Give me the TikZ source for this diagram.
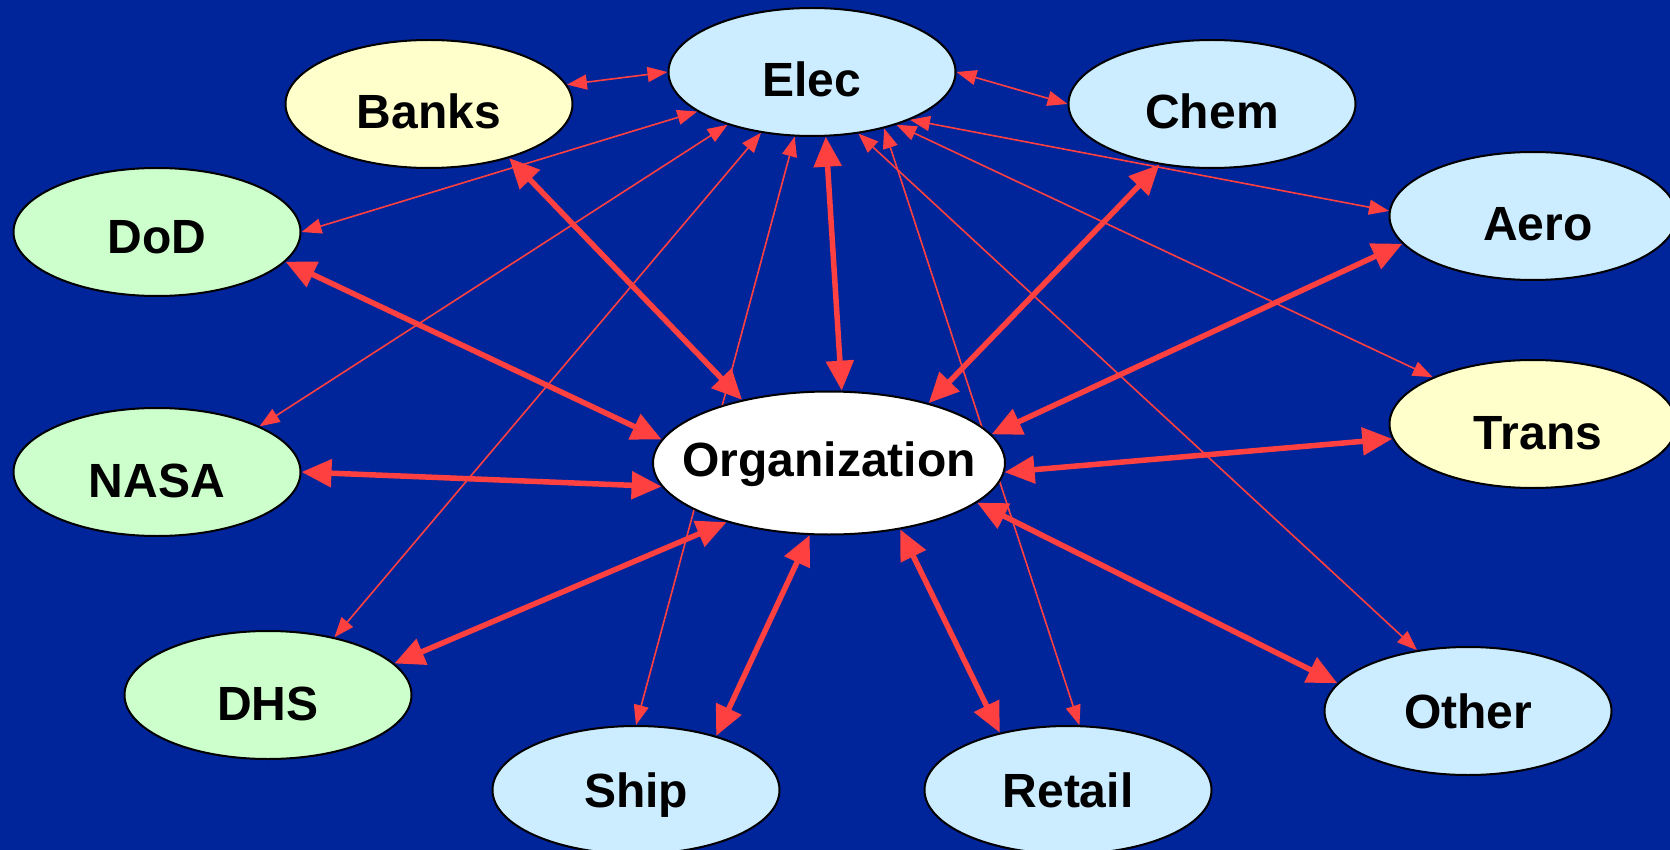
\documentclass[tikz,border=0pt]{standalone}
\usepackage{fontspec}
\setmainfont{Liberation Sans}
\usepackage{tikz}
\usetikzlibrary{arrows.meta}
\usetikzlibrary{shapes.geometric}
\definecolor{slidebg}{RGB}{0,36,153}
\definecolor{linkred}{RGB}{255,64,64}
\definecolor{paleblue}{RGB}{204,236,255}
\definecolor{paleyellow}{RGB}{255,255,204}
\definecolor{palegreen}{RGB}{204,255,204}
\pgfdeclarelayer{back}
\pgfdeclarelayer{links}
\pgfsetlayers{back,links,main}
\tikzset{
    sector/.style={ellipse, draw=black, line width=2pt, fill=paleblue,
        minimum width=287pt, minimum height=128pt, inner sep=0pt,
        font=\fontsize{48}{50}\selectfont\bfseries,
        text height=50pt, text depth=0pt,
        execute at begin node={\hbox to 0pt\bgroup\hss},
        execute at end node={\hss\egroup}},
    nudge/.style={execute at begin node={\hskip#1}},
    hub/.style={sector, fill=white, minimum width=352pt, minimum height=143pt, text height=26pt},
    weak/.style={draw=linkred, line width=1.6pt,
        {Triangle[length=20pt,width=15pt]}-{Triangle[length=20pt,width=15pt]}},
    strong/.style={draw=linkred, line width=5.5pt,
        {Triangle[length=30pt,width=27pt]}-{Triangle[length=30pt,width=27pt]}},
}

\begin{document}
\begin{tikzpicture}[x=1pt, y=-1pt]
	\useasboundingbox (0,0) rectangle (1670,850);
	\begin{pgfonlayer}{back}
		\fill[slidebg] (0,0) rectangle (1670,850);
	\end{pgfonlayer}
	\node[sector] (elec) at (812,72) {Elec};
	\node[sector, fill=paleyellow] (banks) at (429,104) {Banks};
	\node[sector] (chem) at (1212,104) {Chem};
	\node[sector, fill=palegreen, text height=43pt] (dod) at (157,232) {DoD};
	\node[sector, nudge=10pt] (aero) at (1533,216) {Aero};
	\node[sector, fill=palegreen] (nasa) at (157,472) {NASA};
	\node[hub] (org) at (829,463) {Organization};
	\node[sector, fill=paleyellow, nudge=10pt] (trans) at (1533,424) {Trans};
	\node[sector, fill=palegreen] (dhs) at (268,695) {DHS};
	\node[sector, text height=34pt] (ship) at (636,790) {Ship};
	\node[sector, text height=34pt] (retail) at (1068,790) {Retail};
	\node[sector, text height=34pt] (other) at (1468,711) {Other};
	\begin{pgfonlayer}{links}
		% Elec to the rest
		\draw[weak] (elec.180)--(banks.8);
		\draw[weak] (elec.0)--(chem.180);
		\draw[weak] (elec.199)--(dod.0);
		\draw[weak] (elec.212)--(nasa.24);
		\draw[weak] (elec.230)--(dhs.41);
		\draw[weak] (elec.255)--(ship.90);
		\draw[weak] (elec.307)--(other.130);
		\draw[weak] (elec.322)--(retail.80);
		\draw[weak] (elec.328)--(trans.155);
		\draw[weak] (elec.334)--(aero.178);
		% Organization to the rest
		\draw[strong] (org.80)--(elec.282);
		\draw[strong] (org.144)--(banks.326);
		\draw[strong] (org.31)--(chem.229);
		\draw[strong] (org.172)--(dod.347);
		\draw[strong] (org.10)--(aero.192);
		\draw[strong] (org.188)--(nasa.0);
		\draw[strong] (org.357)--(trans.186);
		\draw[strong] (org.210)--(dhs.14);
		\draw[strong] (org.255)--(ship.34);
		\draw[strong] (org.317)--(retail.140);
		\draw[strong] (org.345)--(other.168);
	\end{pgfonlayer}
\end{tikzpicture}
\end{document}
